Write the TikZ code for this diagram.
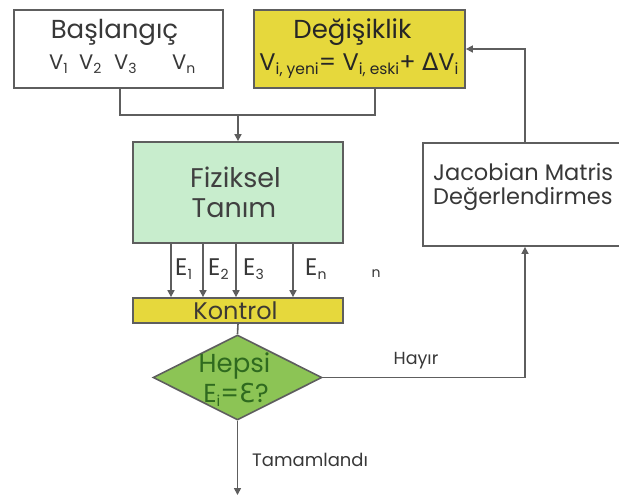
\documentclass[tikz,border=0pt]{standalone}
\usepackage{fontspec}
\setmainfont{Poppins}
\newfontfamily\symf{DejaVu Sans}
\usetikzlibrary{arrows.meta,shapes.geometric}
\definecolor{lineg}{HTML}{5E5E5E}
\definecolor{yel}{HTML}{E6D83C}
\definecolor{mint}{HTML}{C8EDCD}
\definecolor{dgreen}{HTML}{8CC455}
\definecolor{dtext}{HTML}{383838}
\definecolor{gtext}{HTML}{2F6A1F}
\newcommand\lowsub[2][14]{\raisebox{-4pt}{\fontsize{#1}{#1}\selectfont #2}}
\tikzset{
  box/.style={draw=lineg, line width=1.8pt, inner sep=0pt},
  ln/.style={draw=lineg, line width=1.6pt},
  arr/.style={ln, -{Triangle[width=7pt,length=7pt]}},
  big/.style={font=\fontsize{26}{28}\selectfont, text=dtext, inner sep=0pt},
  mid/.style={font=\fontsize{21}{24}\selectfont, text=dtext, inner sep=0pt},
  small/.style={font=\fontsize{17.5}{20}\selectfont, text=dtext, inner sep=0pt},
}
\begin{document}
\begin{tikzpicture}[x=1pt,y=-1pt]
\useasboundingbox (0,0) rectangle (619,496);
\fill[white] (0,0) rectangle (619,496);

% boxes
\node[box, fill=white, minimum width=209pt, minimum height=78pt] (bas) at (118.5,49) {};
\node[box, fill=yel, minimum width=211pt, minimum height=78pt] (deg) at (359.5,49) {};
\node[box, fill=mint, minimum width=210pt, minimum height=101pt] (fiz) at (238,192.5) {};
\node[box, fill=yel, minimum width=210pt, minimum height=25pt] (kon) at (238,310.5) {};
\node[box, fill=white, minimum width=204pt, minimum height=103pt] (jac) at (525,194.5) {};
\node[draw=lineg, line width=1.6pt, fill=dgreen, shape=diamond, minimum width=169pt, minimum height=85pt, inner sep=0pt] (dia) at (237.5,377.5) {};

% texts
\node[big] (bast) at (114.5,32) {Başlangıç};
\node[mid, anchor=base west] (v1) at (49,69) {V\lowsub{1}};
\node[mid, anchor=base west] (v2) at (79,69) {V\lowsub{2}};
\node[mid, anchor=base west] (v3) at (114,69) {V\lowsub{3}};
\node[mid, anchor=base west] (vn) at (172,69) {V\lowsub{n}};

\node[big, text=black!85] (degt) at (352.5,32) {Değişiklik};
\node[font=\fontsize{24}{26}\selectfont, text=black!85, inner sep=0pt, anchor=base] (form) at (359,70) {V\lowsub[15.5]{i, yeni}= V\lowsub[15.5]{i, eski}+ {\symf Δ}V\lowsub[15.5]{i}};

\node[big, font=\fontsize{27}{30}\selectfont, text=black!75] (fizt) at (235.5,177) {Fiziksel};
\node[big, font=\fontsize{27}{30}\selectfont, text=black!75] (tant) at (234,208) {Tanım};

\node[font=\fontsize{24}{26}\selectfont, inner sep=0pt, text=black!80!yellow!60!black] (kont) at (235.5,310.5) {Kontrol};

\node[big, text=gtext] (hep) at (234.5,366) {Hepsi};
\node[big, text=gtext] (eqt) at (236,395) {E\lowsub[15]{i}={\symf Ɛ}?};

\node[font=\fontsize{22.5}{24}\selectfont, text=dtext, inner sep=0pt, align=left, anchor=west] (jact) at (433,187) {Jacobian Matris\\Değerlendirmes};

\node[font=\fontsize{24}{26}\selectfont, text=dtext, inner sep=0pt, anchor=base west] (e1) at (175,275) {E\lowsub{1}};
\node[font=\fontsize{24}{26}\selectfont, text=dtext, inner sep=0pt, anchor=base west] (e2) at (208,275) {E\lowsub{2}};
\node[font=\fontsize{24}{26}\selectfont, text=dtext, inner sep=0pt, anchor=base west] (e3) at (243,275) {E\lowsub{3}};
\node[font=\fontsize{24}{26}\selectfont, text=dtext, inner sep=0pt, anchor=base west] (en) at (305,275) {E\lowsub{n}};
\node[font=\fontsize{14}{16}\selectfont, text=dtext, inner sep=0pt, anchor=base] (nn) at (376,277) {n};

\node[small] (hay) at (416,361) {Hayır};
\node[font=\fontsize{18}{20}\selectfont, text=dtext, inner sep=0pt, anchor=west] (tam) at (252,460) {Tamamlandı};

% connectors
\coordinate (jn) at (238,115);
\coordinate (endp) at (237.5,495);
\draw[ln] ([xshift=1.5pt]bas.south) |- (jn) -| ([xshift=15.5pt]deg.south);
\draw[arr] (jn) -- (fiz.north);
\foreach \dx in {-67,-35,-2,55}
  \draw[arr] ([xshift=\dx pt]fiz.south) -- ([xshift=\dx pt]kon.north);
\draw[ln] (kon.south) -- (dia.north);
\draw[arr] (dia.east) -| (jac.south);
\draw[arr] (jac.north) |- (deg.east);
\draw[arr] (dia.south) -- (endp);
\end{tikzpicture}
\end{document}
